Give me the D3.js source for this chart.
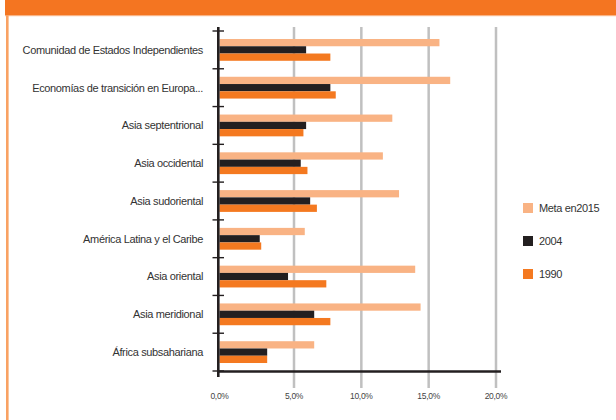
<!DOCTYPE html>
<html>
<head>
<meta charset="utf-8">
<script src="https://cdn.jsdelivr.net/npm/d3@7"></script>
<style>
  html, body { margin: 0; padding: 0; background: #fff; }
  svg { display: block; font-family: "Liberation Sans", Arial, sans-serif; }
</style>
</head>
<body>
<svg id="chart" width="616" height="420"></svg>
<script>
// ---- data ----
const categories = [
  "Comunidad de Estados Independientes",
  "Economías de transición en Europa...",
  "Asia septentrional",
  "Asia occidental",
  "Asia sudoriental",
  "América Latina y el Caribe",
  "Asia oriental",
  "Asia meridional",
  "África subsahariana"
];
const seriesNames = ["Meta en2015", "2004", "1990"];
const meta2015 = [15.8, 16.6, 12.3, 11.6, 12.8, 5.8, 14.0, 14.4, 6.5];
const v2004    = [5.9, 7.7, 5.9, 5.5, 6.2, 2.7, 4.6, 6.5, 3.2];
const v1990    = [7.7, 8.1, 5.7, 6.0, 6.7, 2.8, 7.4, 7.7, 3.2];
const xTicks   = [0, 5, 10, 15, 20];
const colors   = ["#f9b384", "#231f20", "#f47920"];

const seriesValues = [meta2015, v2004, v1990];

const svg = d3.select("#chart");

// frame decoration
svg.append("rect").attr("x", 5).attr("y", 0).attr("width", 611).attr("height", 15).attr("fill", "#f47521");
svg.append("rect").attr("x", 5).attr("y", 15).attr("width", 611).attr("height", 1.2).attr("fill", "#f9b384");
svg.append("rect").attr("x", 6).attr("y", 15).attr("width", 2.6).attr("height", 405).attr("fill", "#f9a263");

// scales
const x = d3.scaleLinear().domain([0, 5, 20]).range([219.5, 294, 496]);
const y = d3.scaleBand().domain(categories).range([31, 371]).paddingInner(0).paddingOuter(0);
const ySub = d3.scaleBand().domain(seriesNames).range([0, y.bandwidth()]).paddingInner(0).paddingOuter(1.1);

// gridlines
svg.append("g").selectAll("line").data(xTicks.filter(d => d > 0)).join("line")
  .attr("x1", d => x(d)).attr("x2", d => x(d))
  .attr("y1", 27).attr("y2", 388)
  .attr("stroke", "#c0c0c0").attr("stroke-width", 2.5);

// bars
seriesNames.forEach((s, si) => {
  svg.append("g").selectAll("rect").data(categories).join("rect")
    .attr("x", x(0))
    .attr("y", c => y(c) + ySub(s))
    .attr("width", (c, i) => x(seriesValues[si][i]) - x(0))
    .attr("height", ySub.bandwidth())
    .attr("fill", colors[si]);
});

// x axis line
svg.append("line").attr("x1", 217).attr("x2", 501).attr("y1", 371.5).attr("y2", 371.5)
  .attr("stroke", "#231f20").attr("stroke-width", 2.5);

// y axis line
svg.append("line").attr("x1", 218.3).attr("x2", 218.3).attr("y1", 27).attr("y2", 377)
  .attr("stroke", "#231f20").attr("stroke-width", 2.6);

// y ticks at band boundaries
const boundaries = categories.map(c => y(c)).concat([y.range()[1]]);
svg.append("g").selectAll("line").data(boundaries).join("line")
  .attr("x1", 212.5).attr("x2", 224)
  .attr("y1", d => d).attr("y2", d => d)
  .attr("stroke", "#231f20").attr("stroke-width", 1.4);

// category labels
svg.append("g").selectAll("text").data(categories).join("text")
  .attr("x", 203)
  .attr("y", c => y(c) + y.bandwidth() / 2)
  .attr("dy", "0.35em")
  .attr("text-anchor", "end")
  .attr("font-size", 11)
  .attr("letter-spacing", -0.35)
  .attr("fill", "#333")
  .text(d => d);

// x tick labels
const fmt = d => d3.format(".1f")(d).replace(".", ",") + "%";
svg.append("g").selectAll("text").data(xTicks).join("text")
  .attr("x", d => x(d))
  .attr("y", 396)
  .attr("dy", "0.35em")
  .attr("text-anchor", "middle")
  .attr("font-size", 8.5)
  .attr("letter-spacing", -0.3)
  .attr("fill", "#444")
  .text(fmt);

// legend
const lg = svg.append("g").selectAll("g").data(seriesNames).join("g")
  .attr("transform", (d, i) => `translate(523, ${208 + i * 33})`);
lg.append("rect").attr("x", 0).attr("y", -5).attr("width", 10).attr("height", 10)
  .attr("fill", (d, i) => colors[i]);
lg.append("text").attr("x", 16).attr("y", 0).attr("dy", "0.35em")
  .attr("font-size", 11).attr("letter-spacing", -0.35).attr("fill", "#333")
  .text(d => d);
</script>
</body>
</html>
